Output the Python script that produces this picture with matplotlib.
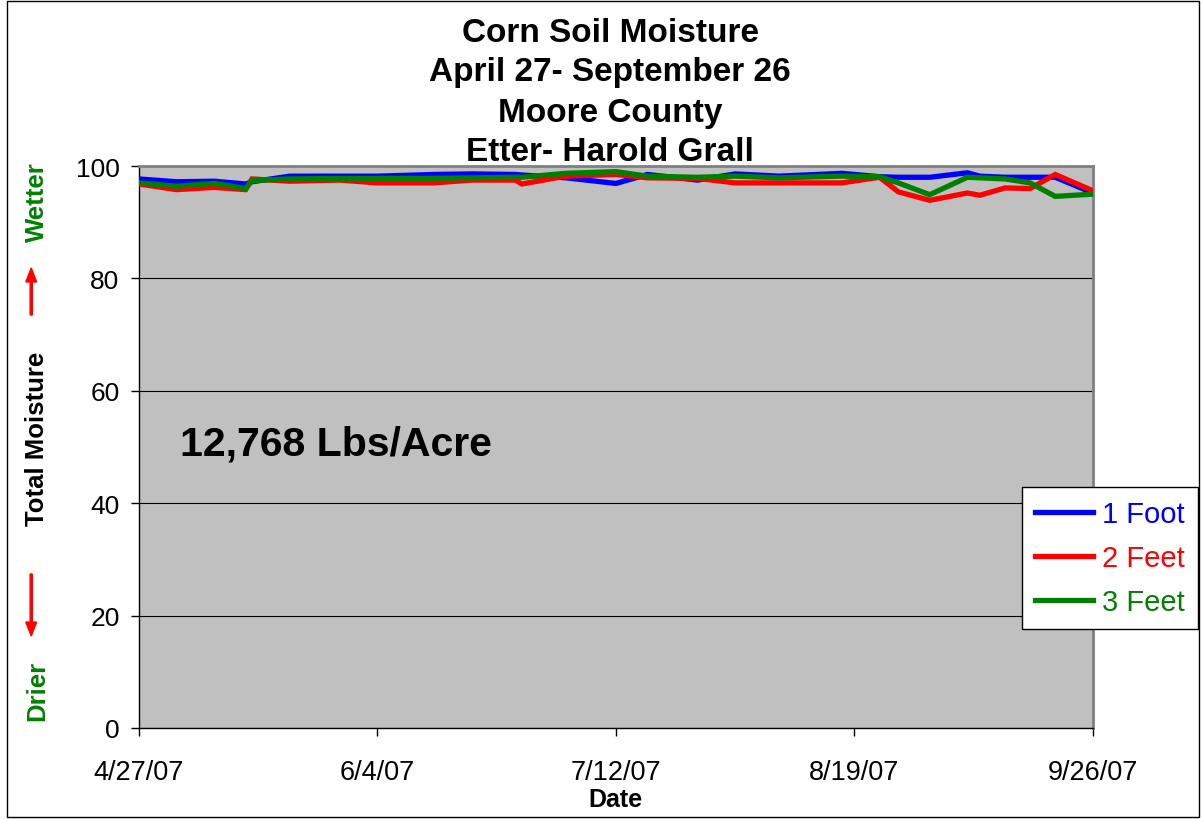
import matplotlib
matplotlib.use("Agg")
import matplotlib.pyplot as plt
from matplotlib.patches import Rectangle, FancyArrow
import datetime as dt

plt.rcParams['font.family'] = ['Liberation Sans', 'DejaVu Sans']

start = dt.date(2007, 4, 27)
day_offsets = [0, 6, 12, 17, 18, 24, 32, 38, 47, 53, 60, 61, 68, 76, 81, 89, 95,
               102, 112, 118, 121, 126, 132, 134, 138, 142, 146, 152]
one_foot = [97.7, 97.2, 97.3, 96.8, 97.2, 98.2, 98.2, 98.2, 98.5, 98.6, 98.5, 98.4,
            97.9, 96.9, 98.5, 97.5, 98.6, 98.2, 98.7, 98.1, 98.0, 98.0, 98.8, 98.2,
            98.0, 98.0, 98.0, 95.2]
two_feet = [96.8, 95.8, 96.2, 95.8, 97.7, 97.3, 97.5, 97.0, 97.0, 97.5, 97.5, 96.8,
            98.2, 98.5, 97.9, 97.8, 97.0, 97.0, 97.0, 98.0, 95.4, 93.9, 95.2, 94.8,
            96.1, 96.0, 98.5, 95.6]
three_feet = [97.0, 96.4, 96.9, 96.0, 97.4, 97.7, 97.8, 97.8, 97.8, 97.9, 98.0, 98.0,
              98.7, 99.0, 98.2, 98.0, 98.2, 97.9, 98.2, 98.1, 97.0, 94.9, 98.0, 97.9,
              97.7, 97.0, 94.6, 95.0]
tick_offsets = [0, 38, 76, 114, 152]
tick_labels = ['4/27/07', '6/4/07', '7/12/07', '8/19/07', '9/26/07']
series_names = ['1 Foot', '2 Feet', '3 Feet']
series_colors = ['#0000FF', '#FF0000', '#008000']

dates = [start + dt.timedelta(days=d) for d in day_offsets]
tick_dates = [start + dt.timedelta(days=d) for d in tick_offsets]

fig = plt.figure(figsize=(12.01, 8.2), dpi=100)
ax = fig.add_axes([0.1157, 0.1110, 0.910 - 0.1157, 0.7963 - 0.1110])
ax.set_facecolor('#C0C0C0')

for vals, name, col in zip([one_foot, two_feet, three_feet], series_names, series_colors):
    ax.plot(dates, vals, color=col, lw=3.8, label=name, solid_joinstyle='miter', zorder=3)

ax.set_ylim(0, 100)
ax.set_xlim(tick_dates[0], tick_dates[-1])
ax.set_yticks([0, 20, 40, 60, 80, 100])
ax.set_xticks(tick_dates)
ax.set_xticklabels(tick_labels, fontsize=19.5)
ax.yaxis.grid(True, color='black', lw=0.8)
ax.set_axisbelow(True)
ax.tick_params(axis='y', labelsize=19, length=6, width=1, pad=8)
ax.tick_params(axis='x', length=6, width=1, pad=16)
ax.spines['top'].set_color('#808080')
ax.spines['right'].set_color('#808080')
ax.spines['top'].set_linewidth(2)
ax.spines['right'].set_linewidth(2)
ax.spines['left'].set_linewidth(1)
ax.spines['bottom'].set_linewidth(1)

ax.set_xlabel('Date', fontsize=18, fontweight='bold', labelpad=2)

for y, t in zip([0.959, 0.911, 0.862, 0.814],
                ['Corn Soil Moisture', 'April 27- September 26', 'Moore County', 'Etter- Harold Grall']):
    fig.text(0.508, y, t, ha='center', va='center', fontsize=24, fontweight='bold')

ax.text(0.043, 0.506, '12,768 Lbs/Acre', transform=ax.transAxes, fontsize=29.5,
        fontweight='bold', ha='left', va='center')

fig.text(0.031, 0.465, 'Total Moisture', rotation=90, ha='center', va='center',
         fontsize=18.5, fontweight='bold')
fig.text(0.031, 0.753, 'Wetter', rotation=90, ha='center', va='center',
         fontsize=18.5, fontweight='bold', color='#008000')
fig.text(0.031, 0.157, 'Drier', rotation=90, ha='center', va='center',
         fontsize=18.5, fontweight='bold', color='#008000')
fig.patches.append(FancyArrow(0.026, 1 - 316 / 820, 0, 47 / 820, width=0.0018,
                              head_width=0.009, head_length=0.017, length_includes_head=True,
                              color='#FF0000', transform=fig.transFigure, figure=fig))
fig.patches.append(FancyArrow(0.026, 1 - 575 / 820, 0, -62 / 820, width=0.0018,
                              head_width=0.009, head_length=0.017, length_includes_head=True,
                              color='#FF0000', transform=fig.transFigure, figure=fig))

leg = fig.legend(loc='upper left', bbox_to_anchor=(1022 / 1201, 1 - 488 / 820),
                 fontsize=21, frameon=True, fancybox=False, edgecolor='black',
                 facecolor='white', framealpha=1,
                 handlelength=2.0, handletextpad=0.3, borderpad=0.45, labelspacing=0.55,
                 borderaxespad=0)
leg.get_frame().set_linewidth(1)
for txt, col in zip(leg.get_texts(), series_colors):
    txt.set_color(col)

fig.patches.append(Rectangle((7 / 1201, 2 / 820), 1192 / 1201, 816 / 820, fill=False,
                             edgecolor='black', lw=1, transform=fig.transFigure, figure=fig))

fig.savefig('out.png', dpi=100)
